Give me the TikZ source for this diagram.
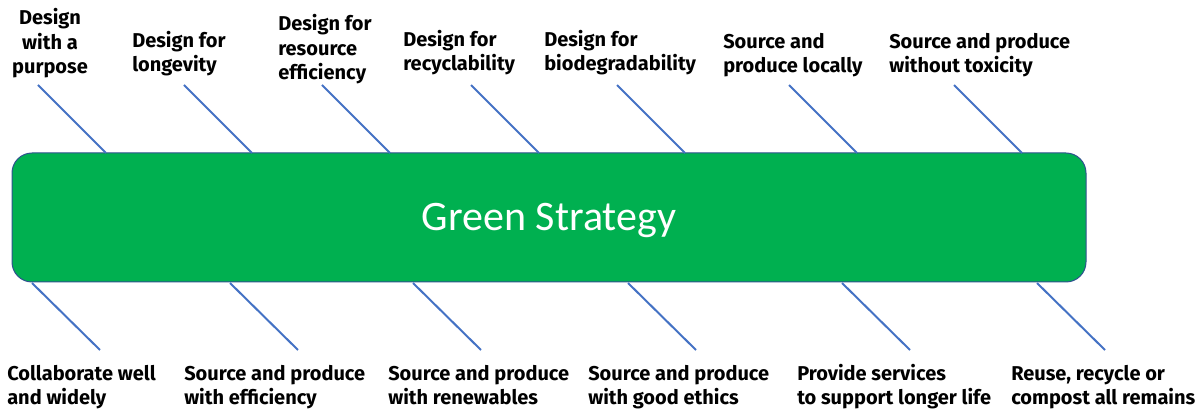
\documentclass[tikz,border=0pt]{standalone}
\usepackage{fontspec}
\setmainfont{Fira Sans}
\newfontfamily\gsfont{Carlito}
\usetikzlibrary{positioning}
\definecolor{GsGreen}{HTML}{00B050}
\definecolor{GsEdge}{HTML}{2F528F}
\definecolor{Spoke}{HTML}{4472C4}
\tikzset{
 gsbox/.style={draw=GsEdge, line width=0.75pt, fill=GsGreen, rounded corners=15pt, minimum width=805.5pt, minimum height=96.75pt},
 gstext/.style={inner sep=0pt, anchor=base, text=white, font=\gsfont\fontsize{31.5}{38}\selectfont},
 lab/.style={inner sep=0pt, anchor=base west, align=left, font=\bfseries\fontsize{15}{18.5}\selectfont},
 spoke/.style={draw=Spoke, line width=1.5pt}
}
\begin{document}
\begin{tikzpicture}[x=0.75pt,y=-0.75pt]
\useasboundingbox (0,0) rectangle (1204,413);
\node[gsbox] (gs) at (549,217.5) {};
\node[gstext] (gst) at (549,231) {Green Strategy};
% top labels
\node[lab, anchor=base, align=center] (d1) at (50,74) {Design\\with a\\purpose};
\foreach \n/\x/\y/\txt in {d2/132/72/{Design for\\longevity}, d3/278/80/{Design for\\resource\\efficiency}, d4/403/71/{Design for\\recyclability}, d5/544/71/{Design for\\biodegradability}, d6/723/73/{Source and\\produce locally}, d7/889/73/{Source and produce\\without toxicity}}{\node[lab] (\n) at (\x,\y) {\txt};}
% bottom labels
\foreach \n/\x/\txt in {b1/7/{Collaborate well\\and widely}, b2/184/{Source and produce\\with efficiency}, b3/388/{Source and produce\\with renewables}, b4/588/{Source and produce\\with good ethics}, b5/797/{Provide services\\to support longer life}, b6/1011/{Reuse, recycle or\\compost all remains}}{\node[lab] (\n) at (\x,405) {\txt};}
% spokes
\foreach \i/\x in {1/38,2/184,3/322,4/471,5/617,6/789,7/954}{\coordinate (t\i) at (\x,85); \draw[spoke] (t\i) -- ++(68,68);}
\foreach \i/\x in {1/32,2/230,3/413,4/628,5/842,6/1037}{\coordinate (u\i) at (\x,283); \draw[spoke] (u\i) -- ++(68,67);}
\end{tikzpicture}
\end{document}
